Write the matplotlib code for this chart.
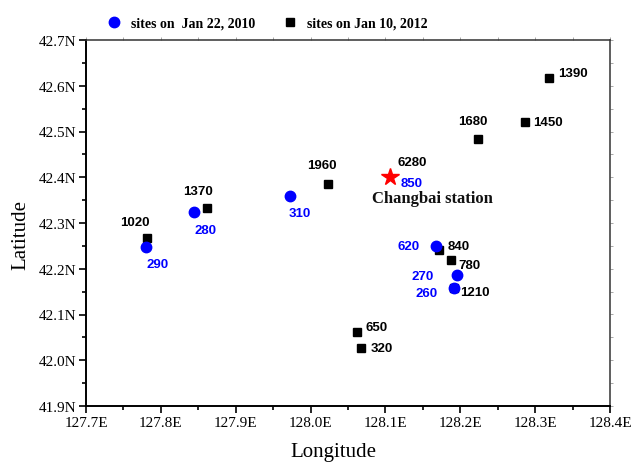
import matplotlib
matplotlib.use("Agg")
import matplotlib.pyplot as plt
from matplotlib.ticker import MultipleLocator, FuncFormatter

# Sites on Jan 22, 2010 (blue circles)
lon_2010 = [127.780, 127.844, 127.972, 128.168, 128.195, 128.192]
lat_2010 = [42.247, 42.324, 42.359, 42.250, 42.186, 42.158]
lab_2010 = ["290", "280", "310", "620", "270", "260"]
off_2010 = [(12, -17), (12, -18), (10, -17), (-28, 0), (-34, -1), (-28, -5)]

# Sites on Jan 10, 2012 (black squares)
lon_2012 = [127.781, 127.861, 128.023, 128.172, 128.187, 128.192, 128.062, 128.067, 128.224, 128.286, 128.319]
lat_2012 = [42.267, 42.333, 42.385, 42.240, 42.219, 42.158, 42.061, 42.027, 42.484, 42.520, 42.618]
lab_2012 = ["1020", "1370", "1960", "840", "780", "1210", "650", "320", "1680", "1450", "1390"]
off_2012 = [(-12, 16), (-9, 17), (-6, 19), (19, 4), (19, -5), (21, -4), (20, 5), (21, 0), (-5, 18), (23, 0), (24, 5)]

# Changbai station
station_lon = 128.106
station_lat = 42.400
station_lab_2012 = "6280"
station_lab_2010 = "850"

xticks = [127.7, 127.8, 127.9, 128.0, 128.1, 128.2, 128.3, 128.4]
yticks = [41.9, 42.0, 42.1, 42.2, 42.3, 42.4, 42.5, 42.6, 42.7]

serif = ["Liberation Serif", "DejaVu Serif"]
sans = ["Liberation Sans", "DejaVu Sans"]
BLUE = "#0000ff"

fig = plt.figure(figsize=(6.32, 4.64), dpi=100)
ax = fig.add_axes([86/632, 57/464, 524/632, 366/464])

ax.plot(lon_2012, lat_2012, "s", color="black", markersize=6.2, linestyle="none",
        label="sites on Jan 10, 2012", zorder=3)
ax.plot(lon_2010, lat_2010, "o", color=BLUE, markersize=7.5, linestyle="none",
        label="sites on  Jan 22, 2010", zorder=4)
ax.plot([station_lon], [station_lat], "*", color="red", markersize=13, zorder=5)

px = 72 / 100.0  # pixel -> points
for x, y, t, (dx, dy) in zip(lon_2010, lat_2010, lab_2010, off_2010):
    ax.annotate(t, (x, y), xytext=(dx*px, dy*px), textcoords="offset points",
                ha="center", va="center", color=BLUE, fontsize=9.5,
                fontweight="bold", family=sans, zorder=6)
for x, y, t, (dx, dy) in zip(lon_2012, lat_2012, lab_2012, off_2012):
    ax.annotate(t, (x, y), xytext=(dx*px, dy*px), textcoords="offset points",
                ha="center", va="center", color="black", fontsize=9.5,
                fontweight="bold", family=sans, zorder=6)
ax.annotate(station_lab_2012, (station_lon, station_lat), xytext=(22*px, 15*px),
            textcoords="offset points", ha="center", va="center", color="black",
            fontsize=9.5, fontweight="bold", family=sans)
ax.annotate(station_lab_2010, (station_lon, station_lat), xytext=(22*px, -6*px),
            textcoords="offset points", ha="center", va="center", color=BLUE,
            fontsize=9.5, fontweight="bold", family=sans)
ax.annotate("Changbai station", (station_lon, station_lat), xytext=(43*px, -21*px),
            textcoords="offset points", ha="center", va="center", color="#111111",
            fontsize=12, fontweight="bold", family=serif)

ax.set_xlim(127.7, 128.4)
ax.set_ylim(41.9, 42.7)
ax.set_xticks(xticks)
ax.set_yticks(yticks)
ax.xaxis.set_minor_locator(MultipleLocator(0.05))
ax.yaxis.set_minor_locator(MultipleLocator(0.05))
ax.xaxis.set_major_formatter(FuncFormatter(lambda v, p: f"{v:.1f}E"))
ax.yaxis.set_major_formatter(FuncFormatter(lambda v, p: f"{v:.1f}N"))
ax.tick_params(which="major", direction="out", length=5, width=1.2,
               labelsize=11, pad=2)
ax.tick_params(which="minor", direction="out", length=3, width=1.2)
for lbl in ax.get_xticklabels() + ax.get_yticklabels():
    lbl.set_family(serif)

for s in ["left", "bottom"]:
    ax.spines[s].set_linewidth(1.4)
for s in ["top", "right"]:
    ax.spines[s].set_linewidth(1.1)
    ax.spines[s].set_color("#333333")

# faint ticks on top and right
sx = ax.secondary_xaxis("top")
sx.set_xticks(xticks)
sx.xaxis.set_minor_locator(MultipleLocator(0.05))
sx.tick_params(which="both", direction="out", length=2, width=0.6,
               colors="#999999", labeltop=False)
sx.spines["top"].set_visible(False)
sy = ax.secondary_yaxis("right")
sy.set_yticks(yticks)
sy.yaxis.set_minor_locator(MultipleLocator(0.05))
sy.tick_params(which="both", direction="out", length=2, width=0.6,
               colors="#999999", labelright=False)
sy.spines["right"].set_visible(False)

ax.set_xlabel("Longitude", family=serif, fontsize=15)
ax.set_ylabel("Latitude", family=serif, fontsize=15)
ax.xaxis.set_label_coords(0.472, -0.098)
ax.yaxis.set_label_coords(-0.107, 0.47)

h, l = ax.get_legend_handles_labels()
leg = fig.legend([h[1], h[0]], [l[1], l[0]], loc="center left",
                 bbox_to_anchor=(106/632, 1 - 24/464), ncol=2, frameon=False,
                 prop={"family": serif, "weight": "bold", "size": 10},
                 handletextpad=0.6, columnspacing=1.92, handlelength=1.2,
                 borderaxespad=0, borderpad=0)

fig.savefig("out.png", dpi=100)
